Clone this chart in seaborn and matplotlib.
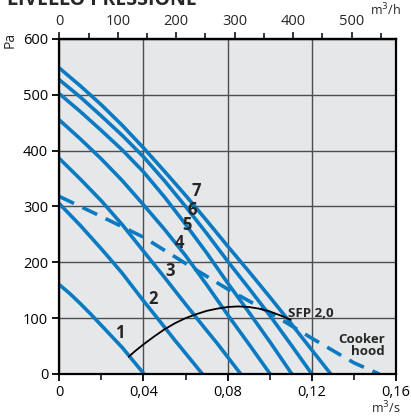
import numpy as np
import pandas as pd
import seaborn as sns
import matplotlib.pyplot as plt
from matplotlib.ticker import MultipleLocator, FixedLocator

# fan curves (x in m3/s, y in Pa)
curve1_x = [0, 0.005, 0.01, 0.015, 0.02, 0.025, 0.03, 0.035, 0.0403]
curve1_y = [160, 144, 126, 107, 87, 67, 47, 24, 0]
curve2_x = [0, 0.01, 0.02, 0.0255, 0.03, 0.04, 0.05, 0.055, 0.06, 0.068]
curve2_y = [305, 266, 224, 200, 180, 131, 84, 60, 37, 0]
curve3_x = [0, 0.01, 0.02, 0.03, 0.04, 0.05, 0.06, 0.07, 0.075, 0.0862]
curve3_y = [386, 349, 310, 267, 220, 173, 125, 78, 55, 0]
curve4_x = [0, 0.01, 0.02, 0.03, 0.04, 0.05, 0.06, 0.07, 0.08, 0.09, 0.1002]
curve4_y = [455, 421, 385, 346, 303, 259, 212, 160, 106, 54, 0]
curve5_x = [0, 0.01, 0.02, 0.03, 0.04, 0.05, 0.06, 0.07, 0.08, 0.09, 0.10, 0.1105]
curve5_y = [502, 470, 436, 401, 362, 317, 268, 217, 163, 111, 58, 0]
curve6_x = [0, 0.01, 0.02, 0.03, 0.04, 0.05, 0.06, 0.07, 0.08, 0.09, 0.10, 0.11, 0.120]
curve6_y = [527, 496, 462, 427, 389, 346, 300, 252, 202, 154, 105, 53, 0]
curve7_x = [0, 0.01, 0.02, 0.03, 0.04, 0.05, 0.06, 0.07, 0.08, 0.09, 0.10, 0.11, 0.12, 0.129]
curve7_y = [548, 516, 482, 445, 405, 363, 320, 275, 229, 184, 138, 91, 43, 0]

hood_x = [0, 0.02, 0.04, 0.06, 0.08, 0.10, 0.12, 0.14, 0.152]
hood_y = [318, 282, 245, 198, 152, 110, 64, 20, 0]

sfp_x = [0.033, 0.036, 0.04, 0.045, 0.05, 0.055, 0.06, 0.065, 0.07, 0.075,
         0.08, 0.085, 0.09, 0.095, 0.10, 0.105, 0.11]
sfp_y = [31, 41, 53, 67, 80, 91, 100, 107, 113, 117, 120, 121, 120, 117, 112, 105, 97]

curve_labels = ['1', '2', '3', '4', '5', '6', '7']
label_x = [0.0288, 0.0447, 0.0526, 0.0573, 0.0605, 0.0629, 0.0653]
label_y = [73, 134, 184, 234, 267, 294, 327]

blue = '#0a7bc2'

sns.set_style('ticks')
plt.rcParams['font.family'] = ['Open Sans', 'DejaVu Sans']

fig = plt.figure(figsize=(4.11, 4.18), dpi=100)
ax = fig.add_axes([0.1443, 0.1053, 0.8192, 0.8014])
ax.set_facecolor('#e6e7e9')

curves = [(curve1_x, curve1_y), (curve2_x, curve2_y), (curve3_x, curve3_y),
          (curve4_x, curve4_y), (curve5_x, curve5_y), (curve6_x, curve6_y),
          (curve7_x, curve7_y)]
for cx, cy in curves:
    sns.lineplot(x=cx, y=cy, sort=False, estimator=None, color=blue, lw=2.6, ax=ax)

sns.lineplot(x=hood_x, y=hood_y, sort=False, estimator=None, color=blue, lw=2.6,
             ax=ax, dashes=False, linestyle=(0, (4.5, 2.6)))
sns.lineplot(x=sfp_x, y=sfp_y, sort=False, estimator=None, color='black', lw=1.3, ax=ax)

for lab, lx, ly in zip(curve_labels, label_x, label_y):
    ax.text(lx, ly, lab, fontsize=12, fontweight='bold', ha='center', va='center')

ax.text(0.1087, 109, 'SFP 2,0', fontsize=9.5, fontweight='bold', ha='left', va='center')
ax.text(0.1548, 51, 'Cooker\nhood', fontsize=9.5, fontweight='bold', ha='right',
        va='center', linespacing=0.95)

ax.set_xlim(0, 0.16)
ax.set_ylim(0, 600)
ax.xaxis.set_major_locator(FixedLocator([0, 0.04, 0.08, 0.12, 0.16]))
ax.xaxis.set_minor_locator(MultipleLocator(0.02))
ax.yaxis.set_major_locator(MultipleLocator(100))
ax.set_xticklabels(['0', '0,04', '0,08', '0,12', '0,16'])
ax.tick_params(axis='both', which='major', labelsize=10.5, length=5, width=1.3,
               colors='black', pad=3)
ax.tick_params(axis='x', which='minor', length=4, width=1.3)
ax.grid(True, which='major', color='#4d4d4d', lw=1.0)
for sp in ax.spines.values():
    sp.set_linewidth(1.6)
    sp.set_color('black')
ax.set_xlabel('')
ax.set_ylabel('')

top = ax.secondary_xaxis('top', functions=(lambda v: v * 3600, lambda v: v / 3600))
top.xaxis.set_major_locator(FixedLocator([0, 100, 200, 300, 400, 500]))
top.xaxis.set_minor_locator(FixedLocator([50, 150, 250, 350, 450, 550]))
top.tick_params(which='major', labelsize=10.5, length=5, width=1.3, pad=2)
top.tick_params(which='minor', length=4, width=1.3)
top.spines['top'].set_linewidth(1.6)

fig.text(0.024, 0.905, 'Pa', rotation=90, fontsize=10, ha='center', va='center')
fig.text(0.975, 0.977, 'm$^3$/h', fontsize=9, ha='right', va='center')
fig.text(0.975, 0.024, 'm$^3$/s', fontsize=9, ha='right', va='center')
# title is cut off at the top edge in the original too
fig.text(0.017, 0.989, 'LIVELLO PRESSIONE', fontsize=14, fontweight='bold',
         ha='left', va='baseline')

fig.savefig('out.png', dpi=100)
